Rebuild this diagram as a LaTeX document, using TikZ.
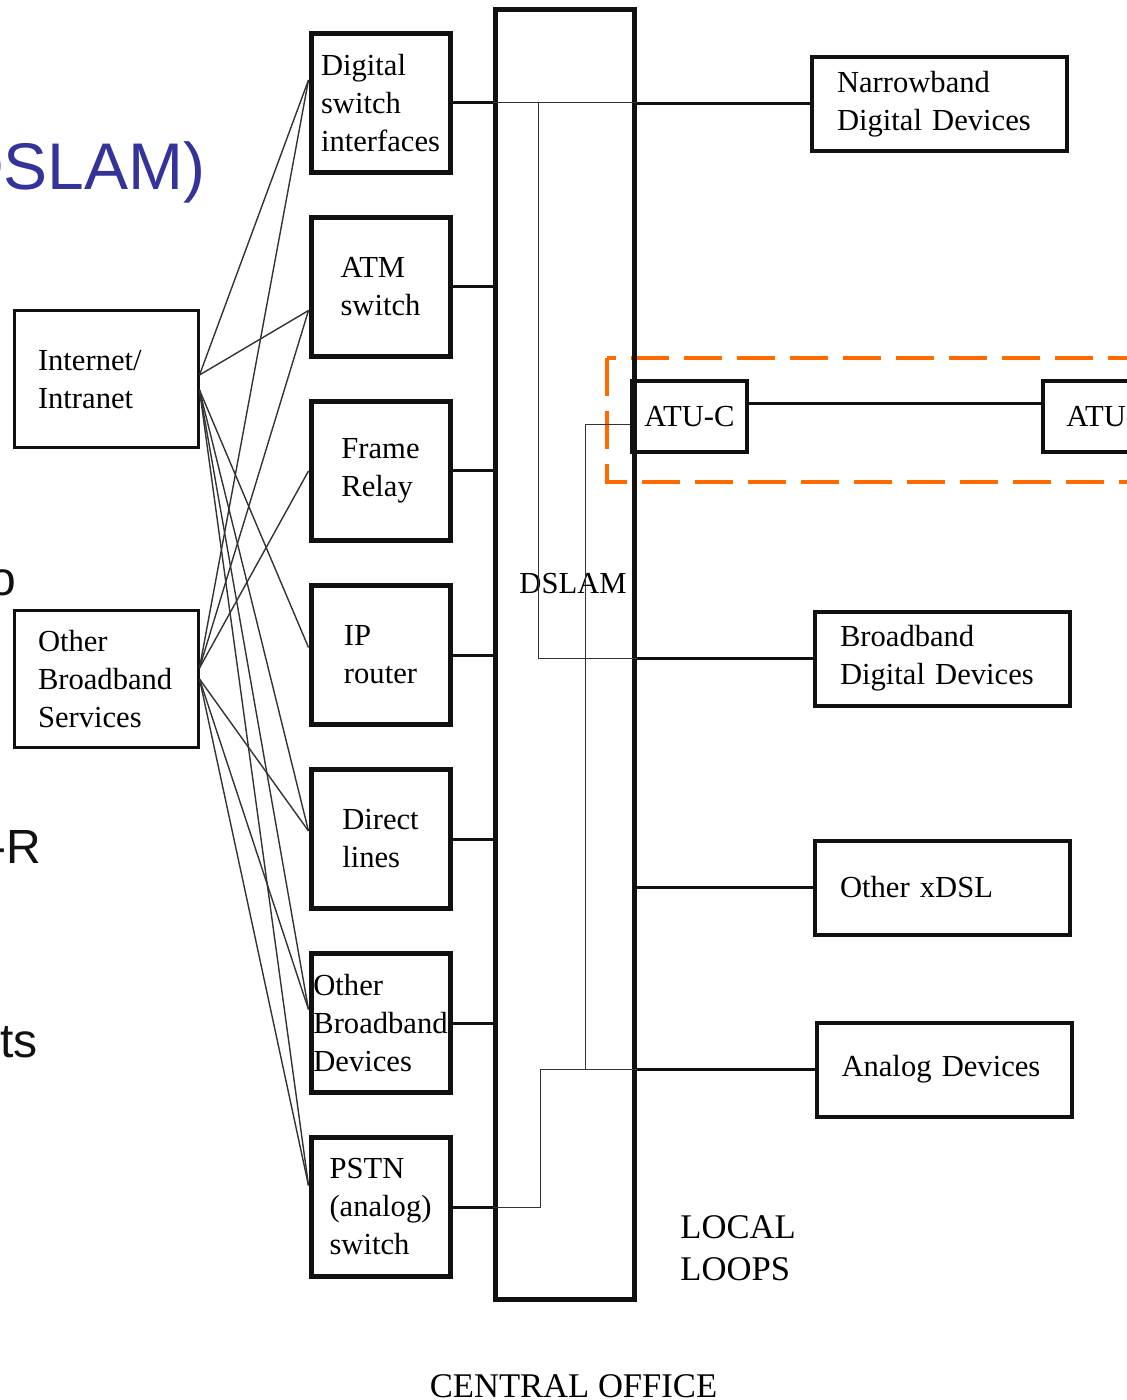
\documentclass[tikz,border=0pt]{standalone}
\usepackage{fontspec}
\setmainfont{Liberation Serif}
\newfontfamily\slidefont{Liberation Sans}
\usetikzlibrary{positioning,calc}
\definecolor{coink}{HTML}{111111}
\definecolor{cowire}{HTML}{333333}
\definecolor{coorange}{HTML}{FF6A00}
\definecolor{coslide}{HTML}{33339A}
\newcommand\cofont{\fontsize{15.3}{19}\selectfont}
\tikzset{
  mid/.style={draw=coink,line width=2.5pt,minimum width=69.5pt,minimum height=69.5pt,inner xsep=1pt,font=\cofont,align=left},
  svc/.style={draw=coink,line width=1.5pt,text width=68pt,inner xsep=12pt,minimum height=68.5pt,font=\cofont,align=left},
  term/.style={draw=coink,line width=2pt,text width=102.5pt,inner xsep=12.5pt,minimum height=47pt,font=\cofont,align=left},
  atu/.style={draw=coink,line width=2pt,minimum height=35.5pt,inner sep=1pt,font=\cofont},
  rack/.style={draw=coink,line width=2.5pt,minimum width=69.5pt,minimum height=644.5pt},
  lbl/.style={font=\fontsize{17.3}{21}\selectfont,align=left,inner sep=0pt},
  slide/.style={font=\slidefont\fontsize{24}{28}\selectfont,text=coink,inner sep=0pt,anchor=base east},
  slidetitle/.style={slide,font=\slidefont\fontsize{33}{36}\selectfont,text=coslide},
  lnk/.style={draw=coink,line width=1.5pt},
  wire/.style={draw=cowire,line width=0.7pt},
  bus/.style={draw=cowire,line width=0.5pt},
  callout/.style={draw=coorange,line width=2pt,dash pattern=on 19pt off 7.5pt},
}
\begin{document}
\begin{tikzpicture}[x=0.5pt,y=-0.5pt,node distance=20pt]
  \useasboundingbox (0,0) rectangle (1127,1400);
  \clip (0,0) rectangle (1127,1400);
  \draw[callout] (607,358) rectangle (1150,482);
  % slide text cut off at the left
  \node[slidetitle] (title) at (206,190) {DSLAM)};
  \node[slide] (frago) at (17,595) {o};
  \node[slide] (fragr) at (42,863) {-R};
  \node[slide] (fragts) at (38,1057) {ts};
  % central office
  \node[rack] (dslam) at (564.5,654.5) {};
  \node[font=\cofont,inner sep=0pt] (dslamlbl) at (573,584) {DSLAM};
  \node[mid] (dsi) at (380.5,103) {Digital\\switch\\interfaces};
  \node[mid,below=of dsi] (atm) {ATM\\switch};
  \node[mid,below=of atm] (fr) {Frame\\Relay};
  \node[mid,below=of fr] (ipr) {IP\\router};
  \node[mid,below=of ipr] (dl) {Direct\\lines};
  \node[mid,below=of dl] (obd) {Other\\Broadband\\Devices};
  \node[mid,below=of obd] (pstn) {PSTN\\(analog)\\switch};
  \node[svc] (inet) at (106,379.5) {Internet/\\Intranet};
  \node[svc] (obs) at (106,679) {Other\\Broadband\\Services};
  % customer side
  \node[term] (nb) at (939.5,104) {Narrowband\\Digital Devices};
  \node[term] (bbd) at (942.5,658.5) {Broadband\\Digital Devices};
  \node[term] (xdsl) at (942.5,887.5) {Other xDSL};
  \node[term] (ad) at (944,1069.5) {Analog Devices};
  \node[atu,minimum width=57.5pt] (atuc) at (689.5,416.5) {ATU-C};
  \node[atu,minimum width=68.5pt] (atur) at (1111.5,416.5) {ATU-R};
  \node[lbl,anchor=north west] (loops) at (680,1215) {LOCAL\\LOOPS};
  \node[lbl,anchor=base] (co) at (573.5,1397) {CENTRAL OFFICE};
  % ports
  \coordinate (inetup) at ([yshift=2.25pt]inet.east);
  \coordinate (inetdn) at ([yshift=-5.25pt]inet.east);
  \coordinate (obsup) at ([yshift=5.5pt]obs.east);
  \coordinate (obsdn) at (obs.east);
  \coordinate (dsiport) at ([yshift=11.5pt]dsi.west);
  \coordinate (atmport) at ([yshift=-11.75pt]atm.west);
  \coordinate (frport) at (fr.west);
  \coordinate (ipport) at ([yshift=3.75pt]ipr.west);
  \coordinate (dlport) at ([yshift=4pt]dl.west);
  \coordinate (obdport) at ([yshift=6.75pt]obd.west);
  \coordinate (pstnport) at ([yshift=10.75pt]pstn.west);
  \coordinate (nbtap) at (538,0);
  \coordinate (atutap) at (585,0);
  \coordinate (pstntap) at (540,0);
  \coordinate (atuport) at ([yshift=6.25pt]atuc.east);
  % services to switches
  \draw[wire](inetup)--(dsiport);\draw[wire](inetup)--(atmport);
  \draw[wire](inetdn)--(ipport);\draw[wire](inetdn)--(dlport);\draw[wire](inetdn)--(obdport);\draw[wire](inetdn)--(pstnport);
  \draw[wire](obsup)--(dsiport);\draw[wire](obsup)--(atmport);\draw[wire](obsup)--(frport);
  \draw[wire](obsdn)--(dlport);\draw[wire](obsdn)--(obdport);\draw[wire](obsdn)--(pstnport);
  % switches into the DSLAM
  \draw[lnk](dsi.east)--(dsi.east-|dslam.west);\draw[lnk](atm.east)--(atm.east-|dslam.west);
  \draw[lnk](fr.east)--(fr.east-|dslam.west);\draw[lnk](ipr.east)--(ipr.east-|dslam.west);
  \draw[lnk](dl.east)--(dl.east-|dslam.west);\draw[lnk](obd.east)--(obd.east-|dslam.west);
  \draw[lnk](pstn.east)--(pstn.east-|dslam.west);
  % inside the DSLAM
  \draw[bus](dsi.east-|dslam.west)--(dsi.east-|dslam.east);
  \draw[bus](dsi.east-|nbtap)|-(bbd.west-|dslam.east);
  \draw[bus]([yshift=-4.25pt]atuc.west)-|(ad.west-|atutap);
  \draw[bus](pstn.east-|dslam.west)-|(ad.west-|pstntap)--(ad.west-|dslam.east);
  % local loops
  \draw[lnk](nb.west-|dslam.east)--(nb.west);\draw[lnk](bbd.west-|dslam.east)--(bbd.west);
  \draw[lnk](xdsl.west-|dslam.east)--(xdsl.west);\draw[lnk](ad.west-|dslam.east)--(ad.west);
  \draw[lnk](atuport)--(atuport-|atur.west);
\end{tikzpicture}
\end{document}
